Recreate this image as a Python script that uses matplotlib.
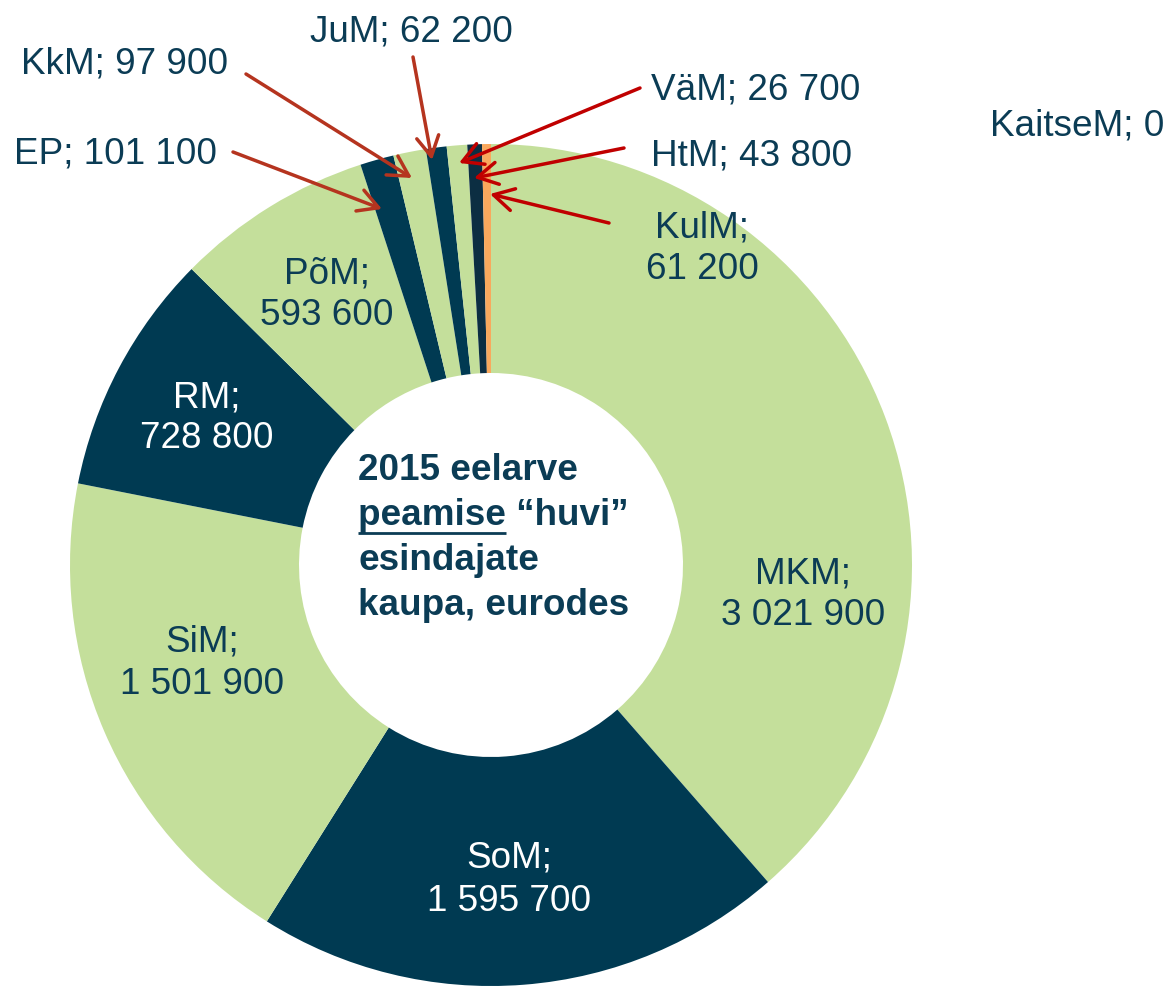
import matplotlib
matplotlib.use("Agg")
import matplotlib.pyplot as plt

# ---- data (clockwise from 12 o'clock) ----
names = ["MKM", "SoM", "SiM", "RM", "PõM", "EP", "KkM", "JuM", "KulM", "HtM", "VäM", "KaitseM"]
values = [3021900, 1595700, 1501900, 728800, 593600, 101100, 97900, 62200, 61200, 43800, 26700, 0]
center_lines = ["2015 eelarve", "peamise \u201chuvi\u201d", "esindajate", "kaupa, eurodes"]

LIGHT = "#C4DF9B"
DARK = "#003A52"
DARKER = "#0C2E42"
ORANGE = "#F9A85D"
TXT = "#0B3C55"
colors = [LIGHT, DARK, LIGHT, DARK, LIGHT, DARK, LIGHT, DARK, LIGHT, DARKER, ORANGE, "#808080"]

plt.rcParams['font.family'] = ['Liberation Sans', 'DejaVu Sans']

W, H = 1170, 986
fig = plt.figure(figsize=(W / 100, H / 100), dpi=100)
ax = fig.add_axes([0, 0, 1, 1])

cx, cy, R, r_in = 491, H - 565, 421, 192
ax.pie(values, colors=colors, startangle=90, counterclock=False, radius=R,
       center=(cx, cy), wedgeprops=dict(width=R - r_in, linewidth=0))
ax.set_xlim(0, W)
ax.set_ylim(0, H)
ax.set_aspect('equal')
ax.axis('off')

def fmt(v):
    return f"{v:,}".replace(",", " ")

FS = 26.6

# two-line labels inside ring: name -> (center x, baseline1, baseline2, color)
inner = {
    "MKM": (803, 583, 625, TXT),
    "SoM": (509, 868, 911, "white"),
    "SiM": (202, 652, 694, TXT),
    "RM": (207, 407, 448, "white"),
    "PõM": (327, 283, 325, TXT),
    "KulM": (702, 237, 279, TXT),
}
for nm, (x, b1, b2, c) in inner.items():
    v = values[names.index(nm)]
    ax.text(x, H - b1, nm + ";", ha='center', va='baseline', fontsize=FS, color=c)
    ax.text(x, H - b2, fmt(v), ha='center', va='baseline', fontsize=FS, color=c)

# single-line outside labels: name -> (left x, baseline)
outer = {
    "KaitseM": (990, 135),
    "VäM": (651, 100),
    "HtM": (651, 165),
    "JuM": (310, 41),
    "KkM": (21, 73),
    "EP": (14, 163),
}
for nm, (x, b) in outer.items():
    v = values[names.index(nm)]
    ax.text(x, H - b, f"{nm}; {fmt(v)}", ha='left', va='baseline', fontsize=FS, color=TXT)

# leader arrows: (start, end) in image pixel coords
BROWN = "#B5341F"
RED = "#C00000"
arrows = [
    ((246, 74), (412, 178), BROWN),
    ((233, 152), (382, 209), BROWN),
    ((413, 57), (432, 160), BROWN),
    ((640, 88), (459, 163), RED),
    ((624, 148), (474, 178), RED),
    ((609, 223), (490, 194), RED),
]
for (x0, y0), (x1, y1), c in arrows:
    ax.annotate("", xy=(x1, H - y1), xytext=(x0, H - y0),
                arrowprops=dict(arrowstyle="->,head_length=0.45,head_width=0.25",
                                color=c, lw=2.5, mutation_scale=32,
                                shrinkA=0, shrinkB=0))

# center title
tx = 358
bases = [480, 525, 570, 615]
for line, b in zip(center_lines, bases):
    ax.text(tx, H - b, line, ha='left', va='baseline', fontsize=FS,
            fontweight='bold', color=TXT)

# underline "peamise"
probe = ax.text(tx, H - bases[1], "peamise", ha='left', va='baseline', fontsize=FS,
                fontweight='bold', color=TXT, alpha=0)
fig.canvas.draw()
bb = probe.get_window_extent()
ax.plot([bb.x0, bb.x1], [H - 533, H - 533], color=TXT, lw=2.0, solid_capstyle='butt')

fig.savefig("out.png", dpi=100, facecolor="white")
